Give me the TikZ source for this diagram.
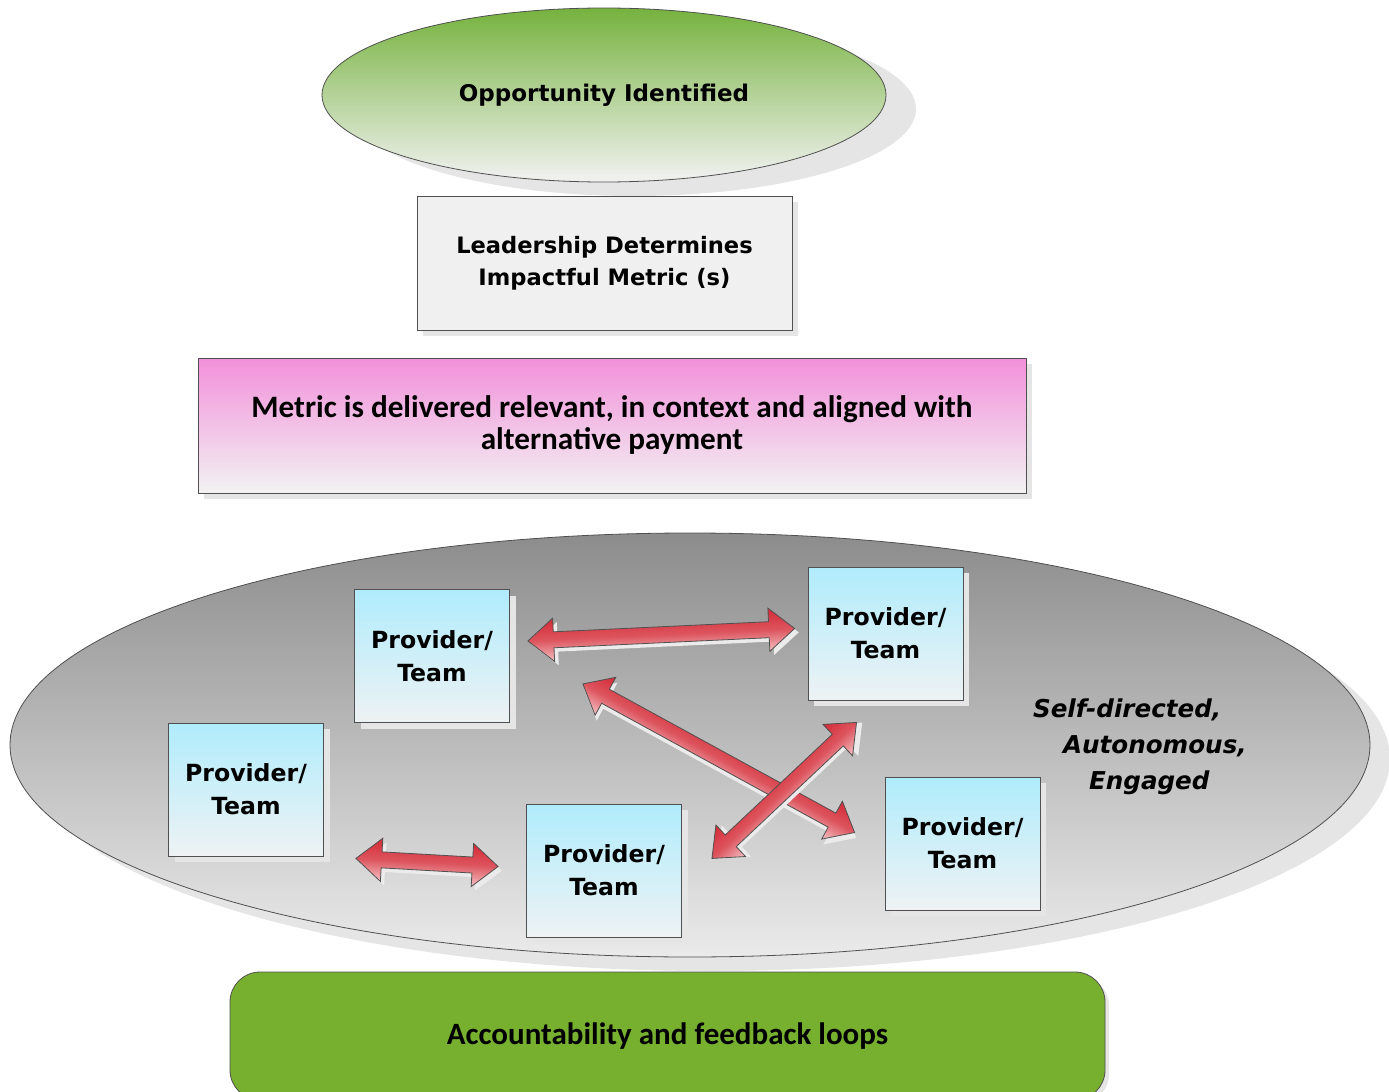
\documentclass[tikz,border=0pt]{standalone}
\usepackage{fontspec}
\setmainfont{DejaVu Sans}
\newfontfamily\calib{Carlito}
\usepackage{tikz}
\usetikzlibrary{shapes.geometric,shapes.arrows,shadows,calc}

\definecolor{leafgreen}{HTML}{76B23E}
\definecolor{grassgreen}{HTML}{77B02F}
\definecolor{pinktop}{HTML}{F290DA}
\definecolor{skyblue}{HTML}{B0ECFC}
\definecolor{paleblue}{HTML}{EEF2F4}
\definecolor{edge}{HTML}{505050}
\definecolor{arrred}{HTML}{D42A36}
\definecolor{arrpale}{HTML}{F5C2C6}

\tikzset{
  softshadow/.style={drop shadow={shadow xshift=#1, shadow yshift=-#1, fill=black!10, opacity=1}},
  provider/.style={draw=edge, top color=skyblue, bottom color=paleblue,
    minimum width=77.5pt, minimum height=66.5pt, align=center,
    font=\fontsize{11.8}{16.5}\selectfont\bfseries, softshadow=3pt},
  biarrow/.style={double arrow, draw=edge, line width=0.4pt, top color=arrred, bottom color=arrpale,
    middle color=arrred!80!white,
    inner xsep=0pt, inner ysep=3.8pt, minimum width=1pt, double arrow head extend=6.8pt,
    double arrow tip angle=80,
    drop shadow={shadow xshift=2pt, shadow yshift=-2pt, fill=black!8, opacity=1}}
}

\begin{document}
\begin{tikzpicture}[x=0.5pt,y=-0.5pt]
  \useasboundingbox (0,0) rectangle (1389,1092);
  % the steps on top
  \node[ellipse, draw=edge, top color=leafgreen, bottom color=black!5, minimum width=282pt, minimum height=87pt,
    font=\fontsize{11.5}{14}\selectfont\bfseries,
    drop shadow={shadow xshift=15pt, shadow yshift=-7pt, fill=black!10, opacity=1}] (opp) at (604,95) {Opportunity Identified};
  \node[draw=edge, fill=black!6, minimum width=187.5pt, minimum height=67pt, align=center,
    font=\fontsize{11.3}{16}\selectfont\bfseries, softshadow=3pt] (lead) at (604.5,263) {Leadership Determines\\Impactful Metric (s)};
  \node[draw=edge, top color=pinktop, bottom color=black!5, minimum width=414pt, minimum height=67.5pt, align=center,
    font=\calib\fontsize{15.6}{16}\selectfont\bfseries, softshadow=3pt] (metric) at (612,425.5) {Metric is delivered relevant, in context and aligned with\\alternative payment};
  % the big ellipse
  \node[ellipse, draw=edge, top color=black!45, bottom color=black!8, minimum width=680pt, minimum height=212pt,
    drop shadow={shadow xshift=10pt, shadow yshift=-7pt, fill=black!10, opacity=1}] (field) at (690,745) {};
  % the teams
  \node[provider] (p1) at (432,656) {Provider/\\Team};
  \node[provider] (p2) at (885.5,633.5) {Provider/\\Team};
  \node[provider] (p3) at (246,789.5) {Provider/\\Team};
  \node[provider] (p4) at (604,870.5) {Provider/\\Team};
  \node[provider] (p5) at (962.5,843.5) {Provider/\\Team};
  \node[anchor=west, align=left, font=\fontsize{12.3}{18}\selectfont\bfseries\itshape] (sde) at (1026,747)
    {Self-directed,\\\hspace*{15pt}Autonomous,\\\hspace*{28pt}Engaged};
  % arrow ends
  \coordinate (a1s) at ($(p1.east)+(18,-15)$);
  \coordinate (a1e) at ($(p2.west)+(-13,-5)$);
  \coordinate (a2s) at ($(p1.south east)+(73,-39)$);
  \coordinate (a2e) at ($(p5.west)+(-30,-11)$);
  \coordinate (a3s) at ($(p4.east)+(30,-12)$);
  \coordinate (a3e) at ($(p2.south west)+(49,22)$);
  \coordinate (a4s) at ($(p3.south east)+(32,2)$);
  \coordinate (a4e) at ($(p4.west)+(-28,-4)$);
  % the arrows, drawn in a turned canvas so that the shading runs across them
  \foreach \s/\e in {a1s/a1e, a2s/a2e, a3s/a3e, a4s/a4e}{
    \path let \p1=($(\e)-(\s)$), \n1={atan2(\y1,\x1)}, \n2={veclen(\x1,\y1)} in
      \pgfextra{\xdef\arrang{\n1}\xdef\arrlen{\n2}};
    \begin{scope}[transform canvas={shift={($(\s)!0.5!(\e)$)}, rotate=\arrang}]
      \node[biarrow, minimum height=\arrlen] (arr-\s) at (0,0) {};
    \end{scope}
  }
  % bottom bar
  \node[draw=edge, fill=grassgreen, rounded corners=15pt, minimum width=437.5pt, minimum height=64pt,
    font=\calib\fontsize{15.5}{18}\selectfont\bfseries, softshadow=2pt] (loops) at (667.5,1036) {Accountability and feedback loops};
\end{tikzpicture}
\end{document}
